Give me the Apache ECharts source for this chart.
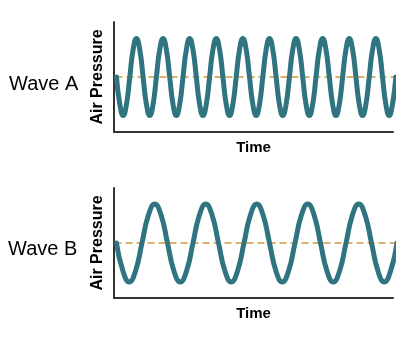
<!DOCTYPE html>
<html>
<head>
<meta charset="utf-8">
<script src="https://cdn.jsdelivr.net/npm/echarts@6/dist/echarts.min.js"></script>
<style>
  html, body { margin: 0; padding: 0; background: #fff; }
  #chart { width: 405px; height: 339px; }
</style>
</head>
<body>
<div id="chart"></div>
<script>
// Panel labels
const panelLabels = ['Wave A', 'Wave B'];
const yAxisName = 'Air Pressure';
const xAxisName = 'Time';

// Air pressure samples (equal time steps, 8 samples per cycle)
const pressureA = [
  0, -0.71, -1, -0.71, 0, 0.71, 1, 0.71,
  0, -0.71, -1, -0.71, 0, 0.71, 1, 0.71,
  0, -0.71, -1, -0.71, 0, 0.71, 1, 0.71,
  0, -0.71, -1, -0.71, 0, 0.71, 1, 0.71,
  0, -0.71, -1, -0.71, 0, 0.71, 1, 0.71,
  0, -0.71, -1, -0.71, 0, 0.71, 1, 0.71,
  0, -0.71, -1, -0.71, 0, 0.71, 1, 0.71,
  0, -0.71, -1, -0.71, 0, 0.71, 1, 0.71,
  0, -0.71, -1, -0.71, 0, 0.71, 1, 0.71,
  0, -0.71, -1, -0.71, 0, 0.71, 1, 0.71,
  0, -0.71, -1, -0.71, 0
];
const pressureB = [
  0, -0.71, -1, -0.71, 0, 0.71, 1, 0.71,
  0, -0.71, -1, -0.71, 0, 0.71, 1, 0.71,
  0, -0.71, -1, -0.71, 0, 0.71, 1, 0.71,
  0, -0.71, -1, -0.71, 0, 0.71, 1, 0.71,
  0, -0.71, -1, -0.71, 0, 0.71, 1, 0.71,
  0, -0.71, -1, -0.71, 0
];
// Mean pressure level (dashed line)
const meanLevel = 0;

const waveColor = '#2f7480';
const dashColor = '#d09a3a';
const axisColor = '#333333';

function toPairs(arr) { return arr.map((v, i) => [i, v]); }

function makeXAxis(gridIndex, min, max) {
  return {
    type: 'value', gridIndex, min, max,
    name: xAxisName, nameLocation: 'middle', nameGap: 8,
    nameTextStyle: { fontFamily: 'Liberation Sans', fontWeight: 'bold', fontSize: 15, color: '#000' },
    axisLine: { show: true, onZero: false, lineStyle: { color: axisColor, width: 2 } },
    axisTick: { show: false }, axisLabel: { show: false }, splitLine: { show: false }
  };
}
function makeYAxis(gridIndex, r) {
  return {
    type: 'value', gridIndex, min: -r, max: r,
    name: yAxisName, nameLocation: 'middle', nameGap: 8, nameRotate: 90,
    nameTextStyle: { fontFamily: 'Liberation Sans', fontWeight: 'bold', fontSize: 16, color: '#000' },
    axisLine: { show: true, onZero: false, lineStyle: { color: axisColor, width: 2 } },
    axisTick: { show: false }, axisLabel: { show: false }, splitLine: { show: false }
  };
}
function makeWave(idx, data) {
  return {
    type: 'line', xAxisIndex: idx, yAxisIndex: idx,
    data: toPairs(data), smooth: true, symbol: 'none', clip: false,
    lineStyle: { color: waveColor, width: 5, cap: 'round', join: 'round' },
    z: 3
  };
}
function makeMean(idx, data) {
  return {
    type: 'line', xAxisIndex: idx, yAxisIndex: idx,
    data: [[-0.3, meanLevel], [data.length - 1, meanLevel]],
    symbol: 'none', clip: false, silent: true,
    lineStyle: { color: dashColor, type: [7, 4], width: 1.4 },
    z: 2
  };
}

const chart = echarts.init(document.getElementById('chart'));
chart.setOption({
  animation: false,
  grid: [
    { left: 114, top: 22, width: 279, height: 110 },
    { left: 114, top: 188, width: 279, height: 110 }
  ],
  xAxis: [makeXAxis(0, -0.75, 83.15), makeXAxis(1, -0.39, 43.37)],
  yAxis: [makeYAxis(0, 1.4286), makeYAxis(1, 1.41)],
  series: [makeMean(0, pressureA), makeMean(1, pressureB), makeWave(0, pressureA), makeWave(1, pressureB)],
  graphic: [
    { type: 'text', left: 9, top: 74, style: { text: panelLabels[0], font: '20px "Liberation Sans"', fill: '#000' } },
    { type: 'text', left: 8, top: 239, style: { text: panelLabels[1], font: '20px "Liberation Sans"', fill: '#000' } }
  ]
});
</script>
</body>
</html>
